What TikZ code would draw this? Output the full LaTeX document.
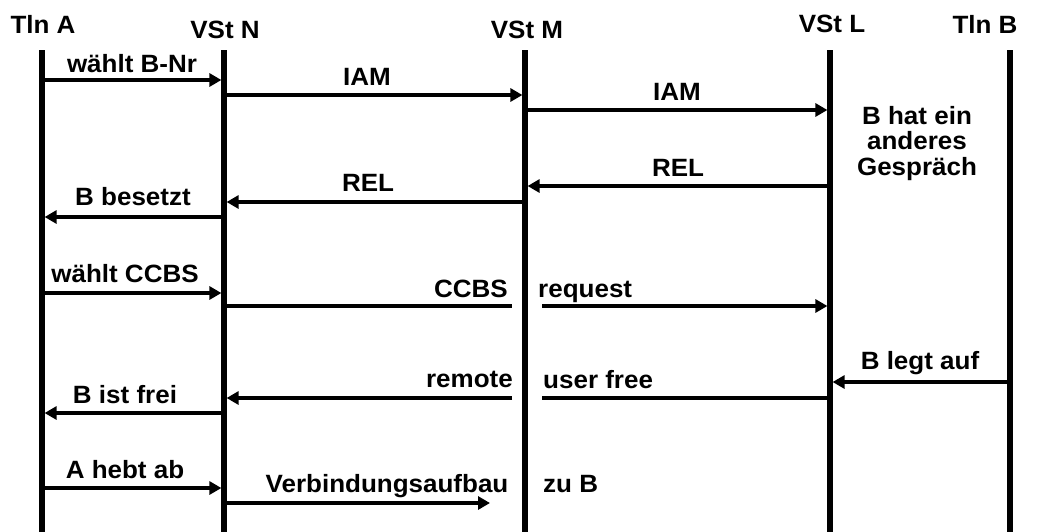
\documentclass[tikz,border=0pt]{standalone}
\usepackage{fontspec}
\setmainfont{Liberation Sans}[FakeStretch=1.04]
\usetikzlibrary{arrows.meta}

\begin{document}
\begin{tikzpicture}[x=1pt,y=-1pt,
  lifeline/.style={line width=5.5pt},
  msg/.style={line width=3.2pt,-{Triangle[length=12pt,width=13pt]},shorten >=2.6pt},
  msgline/.style={line width=3.2pt},
  lbl/.style={inner sep=0pt,anchor=base,font=\fontsize{25}{30}\selectfont\bfseries},
  lblr/.style={lbl,anchor=base east},
  lbll/.style={lbl,anchor=base west}]
\useasboundingbox (0,0) rectangle (1039,531);

% lifelines
\coordinate (A) at (42,50);   \coordinate (Ab) at (42,533);
\coordinate (N) at (224,50);  \coordinate (Nb) at (224,533);
\coordinate (M) at (525,50);  \coordinate (Mb) at (525,533);
\coordinate (L) at (830,50);  \coordinate (Lb) at (830,533);
\coordinate (B) at (1010,50); \coordinate (Bb) at (1010,533);
\foreach \p in {A,N,M,L,B} \draw[lifeline] (\p) -- (\p b);

% party headings
\node[lbl] (hA) at (43,33) {Tln A};
\node[lbl] (hN) at (225,38) {VSt N};
\node[lbl] (hM) at (527,38) {VSt M};
\node[lbl] (hL) at (832,32) {VSt L};
\node[lbl] (hB) at (985,33) {Tln B};

% message rows
\coordinate (r1) at (0,80);
\coordinate (r2) at (0,95);
\coordinate (r3) at (0,110);
\coordinate (r4) at (0,186);
\coordinate (r5) at (0,202);
\coordinate (r6) at (0,217);
\coordinate (r7) at (0,293);
\coordinate (r8) at (0,306);
\coordinate (r9) at (0,382);
\coordinate (r10) at (0,398);
\coordinate (r11) at (0,413);
\coordinate (r12) at (0,488);
\coordinate (r13) at (0,503);

% first call attempt
\draw[msg] (A |- r1) -- (N |- r1);
\node[lbl] (t1) at (132,72) {wählt B-Nr};
\draw[msg] (N |- r2) -- (M |- r2);
\node[lbl] (t2) at (367,85) {IAM};
\draw[msg] (M |- r3) -- (L |- r3);
\node[lbl] (t3) at (677,100) {IAM};
\node[lbl] (busy1) at (917,124) {B hat ein};
\node[lbl] (busy2) at (917,149) {anderes};
\node[lbl] (busy3) at (917,175) {Gespräch};
\draw[msg] (L |- r4) -- (M |- r4);
\node[lbl] (t4) at (678,176) {REL};
\draw[msg] (M |- r5) -- (N |- r5);
\node[lbl] (t5) at (368,191) {REL};
\draw[msg] (N |- r6) -- (A |- r6);
\node[lbl] (t6) at (133,205) {B besetzt};

% CCBS request
\draw[msg] (A |- r7) -- (N |- r7);
\node[lbl] (t7) at (125,282) {wählt CCBS};
\coordinate (g8a) at (512,306);
\coordinate (g8b) at (542,306);
\draw[msgline] (N |- r8) -- (g8a);
\draw[msg] (g8b) -- (L |- r8);
\node[lblr] (t8a) at (508,297) {CCBS};
\node[lbll] (t8b) at (538,297) {request};

% B becomes free
\draw[msg] (B |- r9) -- (L |- r9);
\node[lbl] (t9) at (920,369) {B legt auf};
\coordinate (g10a) at (542,398);
\coordinate (g10b) at (512,398);
\draw[msgline] (L |- r10) -- (g10a);
\draw[msg] (g10b) -- (N |- r10);
\node[lblr] (t10a) at (513,387) {remote};
\node[lbll] (t10b) at (543,388) {user free};
\draw[msg] (N |- r11) -- (A |- r11);
\node[lbl] (t11) at (125,403) {B ist frei};

% call set-up
\draw[msg] (A |- r12) -- (N |- r12);
\node[lbl] (t12) at (125,478) {A hebt ab};
\coordinate (v13) at (492.6,503);
\draw[msg] (N |- r13) -- (v13);
\node[lbl] (t13a) at (387,492) {Verbindungsaufbau};
\node[lbll] (t13b) at (543,492) {zu B};
\end{tikzpicture}
\end{document}
